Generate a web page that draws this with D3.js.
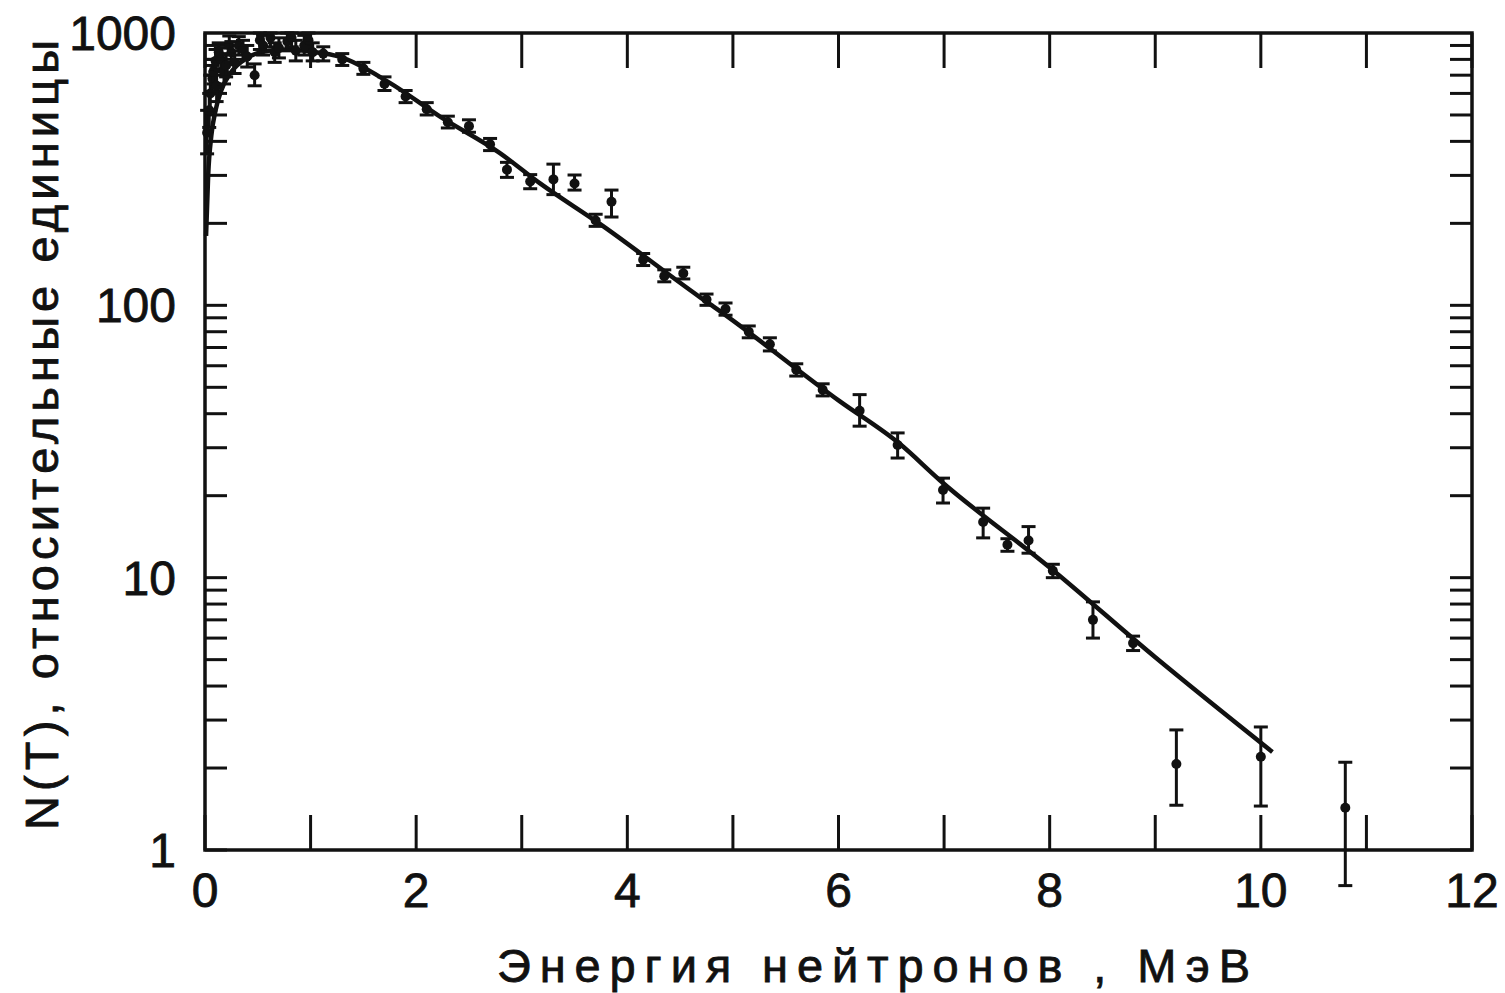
<!DOCTYPE html>
<html>
<head>
<meta charset="utf-8">
<script src="https://cdn.jsdelivr.net/npm/d3@7"></script>
<style>
    body { margin: 0; background: #fff; }
    svg { display: block; }
    text { font-family: "Liberation Sans", Arial, sans-serif; fill: #111; stroke: #111; stroke-width: 0.8px; }
</style>
</head>
<body>
<svg id="chart" width="1505" height="993"></svg>
<script>
// Measured points: energy (MeV), counts and error bar ends
const energy = [0.02, 0.04, 0.05, 0.07, 0.08, 0.10, 0.11, 0.13, 0.15, 0.18, 0.20, 0.23, 0.25, 0.28, 0.32, 0.36, 0.40, 0.47,
    0.52, 0.55, 0.62, 0.66, 0.70, 0.78, 0.82, 0.86, 0.94, 0.98, 1.02, 1.12,
    1.30, 1.50, 1.70, 1.90, 2.10, 2.30, 2.50, 2.70, 2.86, 3.08, 3.30, 3.50, 3.70, 3.85, 4.15, 4.35, 4.53, 4.75, 4.93,
    5.15, 5.35, 5.60, 5.85, 6.20, 6.56, 6.99, 7.37, 7.60, 7.80, 8.03, 8.41, 8.79, 9.20, 10.00, 10.80];
const counts = [430, 520, 600, 680, 720, 790, 640, 850, 800, 720, 760, 900, 850, 780, 900, 870, 820, 700,
    940, 900, 960, 850, 880, 930, 960, 860, 900, 940, 850, 840,
    800, 740, 650, 585, 525, 470, 455, 390, 315, 285, 290, 280, 205, 240, 147, 128, 131, 105, 97,
    80, 72, 58, 49, 41, 30.7, 21, 16, 13.2, 13.7, 10.6, 7.0, 5.75, 2.07, 2.2, 1.43];
const errLow = [360, 450, 520, 610, 650, 720, 560, 780, 730, 650, 690, 830, 780, 710, 830, 800, 750, 640,
    870, 830, 890, 780, 810, 860, 890, 790, 830, 870, 790, 790,
    760, 705, 615, 555, 500, 448, 432, 370, 295, 268, 255, 265, 195, 211, 140, 122, 125, 100, 92,
    76, 68, 55, 46.5, 36, 27.5, 18.8, 14, 12.5, 12.3, 10, 6.0, 5.4, 1.46, 1.45, 0.74];
const errHigh = [520, 600, 700, 760, 800, 870, 740, 920, 880, 800, 840, 975, 930, 860, 970, 940, 900, 770,
    1000, 980, 1000, 920, 960, 1000, 1000, 940, 980, 1000, 920, 890,
    840, 780, 690, 615, 555, 495, 480, 410, 335, 302, 330, 301, 216, 265, 155, 135, 138, 110, 102,
    84, 76, 61, 51.5, 47, 34, 23.2, 18, 13.9, 15.4, 11.2, 8.15, 6.1, 2.76, 2.83, 2.1];

// Fitted spectrum curve
const curveE = [0.01, 0.03, 0.06, 0.1, 0.15, 0.25, 0.4, 0.6, 0.8, 1.0, 1.28, 1.75, 2.23, 2.79, 3.17, 3.74,
    4.69, 4.88, 6.01, 6.58, 6.96, 8.0, 9.0, 10.11];
const curveN = [180, 300, 420, 520, 610, 720, 810, 860, 870, 855, 817, 656, 492, 363, 281, 199,
    107, 95, 44.5, 31, 22.8, 10.9, 5.1, 2.29];

const xTicks = [0, 2, 4, 6, 8, 10, 12];
const yTicks = [1, 10, 100, 1000];

const svg = d3.select("#chart");
const plotLeft = 205, plotRight = 1472, plotTop = 33, plotBottom = 850;

const x = d3.scaleLinear().domain([0, 12]).range([plotLeft, plotRight]);
const y = d3.scaleLog().domain([1, 1000]).range([plotBottom, plotTop]);

svg.append("rect").attr("width", 1505).attr("height", 993).attr("fill", "#fff");

// ticks inside the frame
const minorX = d3.range(0, 13);
const tickLenX = 35;
const ticks = svg.append("g").attr("stroke", "#111").attr("stroke-width", 3);
minorX.forEach(v => {
    ticks.append("line").attr("x1", x(v)).attr("x2", x(v)).attr("y1", plotBottom).attr("y2", plotBottom - tickLenX);
    ticks.append("line").attr("x1", x(v)).attr("x2", x(v)).attr("y1", plotTop).attr("y2", plotTop + tickLenX);
});
const minorY = [];
[1, 10, 100].forEach(d => { for (let k = 1; k < 10; k++) minorY.push(d * k); });
minorY.forEach(v => {
    const len = 22;
    ticks.append("line").attr("x1", plotLeft).attr("x2", plotLeft + len).attr("y1", y(v)).attr("y2", y(v));
    ticks.append("line").attr("x1", plotRight).attr("x2", plotRight - len).attr("y1", y(v)).attr("y2", y(v));
});

// frame
svg.append("rect")
    .attr("x", plotLeft).attr("y", plotTop)
    .attr("width", plotRight - plotLeft).attr("height", plotBottom - plotTop)
    .attr("fill", "none").attr("stroke", "#111").attr("stroke-width", 3.5);

// fitted curve
const line = d3.line()
    .x((d, i) => x(curveE[i]))
    .y((d, i) => y(curveN[i]))
    .curve(d3.curveMonotoneX);
svg.append("path")
    .datum(curveE)
    .attr("d", line)
    .attr("fill", "none")
    .attr("stroke", "#111")
    .attr("stroke-width", 4.5);

// error bars and points
const pts = svg.append("g").attr("stroke", "#111").attr("stroke-width", 3);
const cap = 7;
energy.forEach((e, i) => {
    const cx = x(e);
    pts.append("line").attr("x1", cx).attr("x2", cx).attr("y1", y(errLow[i])).attr("y2", y(errHigh[i]));
    pts.append("line").attr("x1", cx - cap).attr("x2", cx + cap).attr("y1", y(errLow[i])).attr("y2", y(errLow[i]));
    pts.append("line").attr("x1", cx - cap).attr("x2", cx + cap).attr("y1", y(errHigh[i])).attr("y2", y(errHigh[i]));
    pts.append("circle").attr("cx", cx).attr("cy", y(counts[i])).attr("r", 5).attr("fill", "#111").attr("stroke", "none");
});

// tick labels
svg.append("g").selectAll("text").data(xTicks).join("text")
    .attr("x", d => x(d)).attr("y", 907)
    .attr("text-anchor", "middle")
    .style("font-size", "48px")
    .text(d => d);

svg.append("g").selectAll("text").data(yTicks).join("text")
    .attr("x", 176).attr("y", d => y(d) + 17)
    .attr("text-anchor", "end")
    .style("font-size", "48px")
    .text(d => d);

// axis titles
svg.append("text")
    .attr("x", 497).attr("y", 982)
    .attr("textLength", 753).attr("lengthAdjust", "spacing")
    .style("font-size", "47px")
    .text("Энергия нейтронов , МэВ");

svg.append("text")
    .attr("transform", "translate(58,830) rotate(-90)")
    .attr("textLength", 790).attr("lengthAdjust", "spacing")
    .style("font-size", "47px")
    .text("N(T), относительные единицы");
</script>
</body>
</html>
